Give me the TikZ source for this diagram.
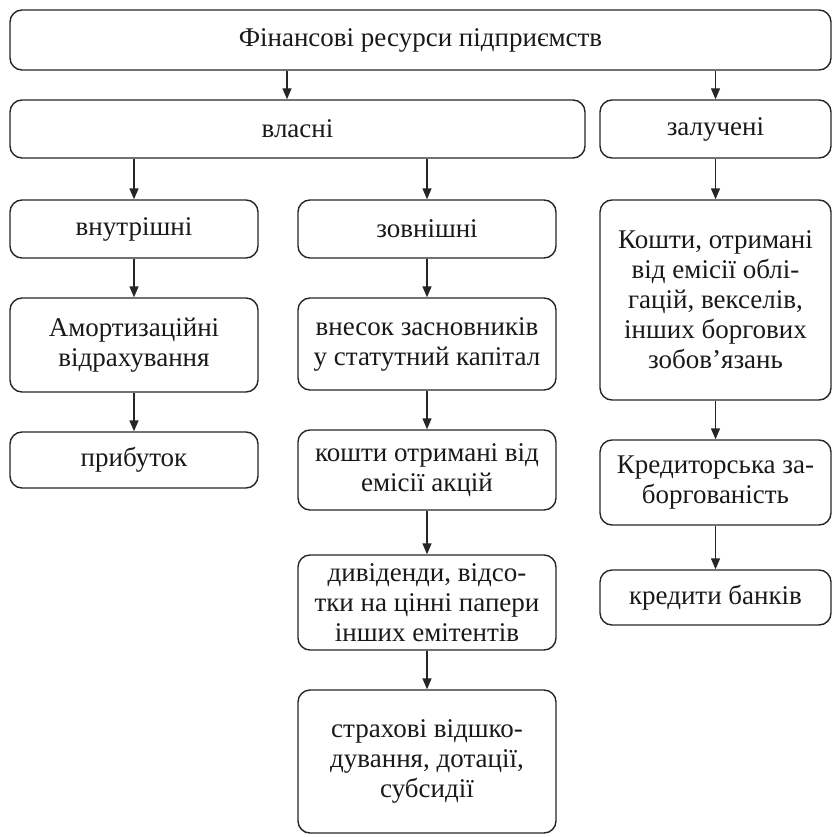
\documentclass[tikz,border=0pt]{standalone}
\usepackage{fontspec}
\setmainfont{Liberation Serif}
\usetikzlibrary{arrows.meta}
\begin{document}
\begin{tikzpicture}[x=1pt,y=1pt,
  bx/.style={draw=black!85, line width=1.4pt, rounded corners=12pt, align=center,
    inner sep=0pt, font=\fontsize{27}{30}\selectfont, text=black!90},
  arr/.style={draw=black!85, line width=1.4pt, -{Triangle[length=11pt,width=9pt]}}]
\useasboundingbox (0,0) rectangle (834,-837);
\node[bx, minimum width=821, minimum height=60] (top) at (420.5,-40) {Фінансові ресурси підприємств};
\node[bx, minimum width=575, minimum height=58] (vlasni) at (297.5,-129) {власні};
\node[bx, minimum width=231, minimum height=58] (zaluch) at (715.5,-129) {залучені};
\node[bx, minimum width=248, minimum height=58] (vnutr) at (134,-229) {внутрішні};
\node[bx, minimum width=258, minimum height=58] (zovn) at (427,-229) {зовнішні};
\node[bx, minimum width=248, minimum height=94] (amort) at (134,-345) {Амортизаційні\\відрахування};
\node[bx, minimum width=248, minimum height=56] (prybut) at (134,-460) {прибуток};
\node[bx, minimum width=258, minimum height=92] (vnesok) at (427,-344) {внесок засновників\\у статутний капітал};
\node[bx, minimum width=258, minimum height=80] (koshty) at (427,-470) {кошти отримані від\\емісії акцій};
\node[bx, minimum width=258, minimum height=95] (dyvid) at (427,-602.5) {дивіденди, відсо-\\тки на цінні папери\\інших емітентів};
\node[bx, minimum width=258, minimum height=143] (strakh) at (427,-761.5) {страхові відшко-\\дування, дотації,\\субсидії};
\node[bx, minimum width=231, minimum height=200] (koshtyR) at (715.5,-300) {Кошти, отримані\\від емісії облі-\\гацій, векселів,\\інших боргових\\зобов’язань};
\node[bx, minimum width=231, minimum height=85] (kredyt) at (715.5,-482.5) {Кредиторська за-\\боргованість};
\node[bx, minimum width=231, minimum height=55] (bank) at (715.5,-597.5) {кредити банків};
\draw[arr] (top.south -| 287,0) -- (vlasni.north -| 287,0);
\draw[arr] (top.south -| zaluch.north) -- (zaluch.north);
\draw[arr] (vlasni.south -| vnutr.north) -- (vnutr.north);
\draw[arr] (vlasni.south -| zovn.north) -- (zovn.north);
\draw[arr] (zaluch) -- (koshtyR);
\draw[arr] (vnutr) -- (amort);
\draw[arr] (amort) -- (prybut);
\draw[arr] (zovn) -- (vnesok);
\draw[arr] (vnesok) -- (koshty);
\draw[arr] (koshty) -- (dyvid);
\draw[arr] (dyvid) -- (strakh);
\draw[arr] (koshtyR) -- (kredyt);
\draw[arr] (kredyt) -- (bank);
\end{tikzpicture}
\end{document}
